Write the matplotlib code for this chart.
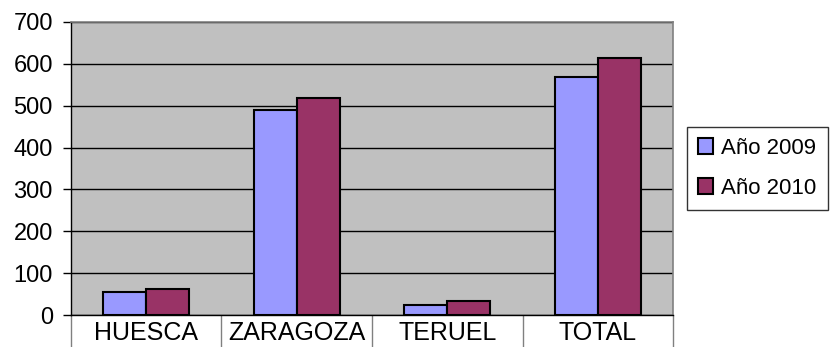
import numpy as np
import matplotlib
matplotlib.use("Agg")
import matplotlib.pyplot as plt

plt.rcParams["font.family"] = ["Liberation Sans", "DejaVu Sans"]

# provincias y totales por año
provincias = ["HUESCA", "ZARAGOZA", "TERUEL", "TOTAL"]
anio_2009 = [55, 490, 24, 569]
anio_2010 = [62, 519, 33, 614]
series = ["Año 2009", "Año 2010"]
colores = ["#9999FF", "#993366"]

fig = plt.figure(figsize=(8.32, 3.47), dpi=100)
ax = fig.add_axes([0.0853, 0.092, 0.7237, 0.845])
ax.set_facecolor("#C0C0C0")

x = np.arange(len(provincias))
w = 0.286
ax.bar(x - w / 2, anio_2009, w, color=colores[0], edgecolor="black",
       linewidth=1.5, label=series[0], zorder=3)
ax.bar(x + w / 2, anio_2010, w, color=colores[1], edgecolor="black",
       linewidth=1.5, label=series[1], zorder=3)

ax.set_xlim(-0.5, 3.5)
ax.set_ylim(0, 700)
ax.set_yticks(range(0, 701, 100))
ax.yaxis.grid(True, color="black", linewidth=1.0, zorder=1)
ax.set_axisbelow(True)

ax.set_xticks(x)
ax.set_xticklabels(provincias)
ax.tick_params(axis="x", which="major", length=0, pad=4, labelsize=18)
ax.set_xticks([-0.5, 0.5, 1.5, 2.5, 3.5], minor=True)
ax.tick_params(axis="x", which="minor", length=24, width=1.0, color="#808080")
ax.tick_params(axis="y", length=6, width=1.0, pad=7, labelsize=17)

for side in ["top", "right"]:
    ax.spines[side].set_color("#808080")
    ax.spines[side].set_linewidth(1.2)
ax.spines["left"].set_linewidth(1.0)
ax.spines["bottom"].set_linewidth(1.0)

leg = ax.legend(loc="center left", bbox_to_anchor=(1.008, 0.5), fontsize=16,
                frameon=True, fancybox=False, edgecolor="black",
                handlelength=0.7, handleheight=0.7, handletextpad=0.35,
                labelspacing=0.85, borderpad=0.5, borderaxespad=0.4)
leg.get_frame().set_linewidth(1.0)

fig.savefig("out.png", dpi=100)
